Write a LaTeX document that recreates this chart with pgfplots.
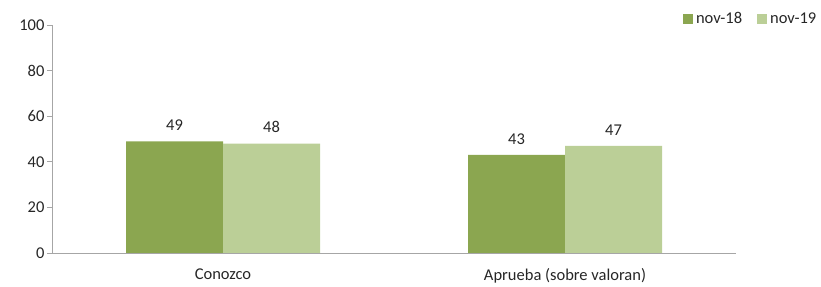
\documentclass[border=0pt]{standalone}
\usepackage{pgfplots}
\pgfplotsset{compat=1.18}
\usepackage{fontspec}
\setmainfont{Carlito}
\definecolor{darkg}{HTML}{8BA650}
\definecolor{lightg}{HTML}{BBCF97}
\definecolor{axgray}{HTML}{A6A6A6}
\definecolor{txt}{HTML}{262626}
\begin{document}
\begin{tikzpicture}
\begin{axis}[
  at={(0,0)}, anchor=south west,
  scale only axis, width=684pt, height=228pt,
  xmin=-0.5, xmax=1.5, ymin=0, ymax=100,
  ybar=0pt, bar width=97pt,
  axis x line*=bottom, axis y line*=left,
  axis line style={axgray, line width=0.8pt},
  ytick={0,20,...,100},
  y tick style={axgray, line width=0.8pt},
  major tick length=5pt,
  tick align=outside,
  xtick={0,1},
  xticklabels={Conozco, Aprueba (sobre valoran)},
  x tick style={draw=none},
  extra x ticks={-0.5,0.5,1.5},
  extra x tick labels={},
  extra x tick style={x tick style={axgray, line width=0.8pt}},
  tick label style={font=\fontsize{16.5}{19}\selectfont, text=txt},
  /pgf/number format/assume math mode=true,
  xticklabel style={yshift=-7pt},
  yticklabel style={xshift=1pt},
  nodes near coords,
  every node near coord/.append style={font=\fontsize{16.5}{19}\selectfont, text=txt, yshift=7pt},
  legend columns=2,
  legend style={at={(1,1)}, anchor=east, xshift=84pt, yshift=6pt, draw=none, fill=none, inner sep=0pt,
    font=\fontsize{16.5}{19}\selectfont, text=txt,
    /tikz/every even column/.append style={column sep=11pt},
    nodes={inner sep=3.5pt}},
  legend image code/.code={\fill[#1] (0pt,-5pt) rectangle (10pt,5pt);},
]
\addplot[fill=darkg, draw=none] coordinates {(0,49) (1,43)};
\addplot[fill=lightg, draw=none] coordinates {(0,48) (1,47)};
\legend{nov-18, nov-19}
\end{axis}
\useasboundingbox (-52pt,-29pt) rectangle (769pt,253pt);
\end{tikzpicture}
\end{document}
